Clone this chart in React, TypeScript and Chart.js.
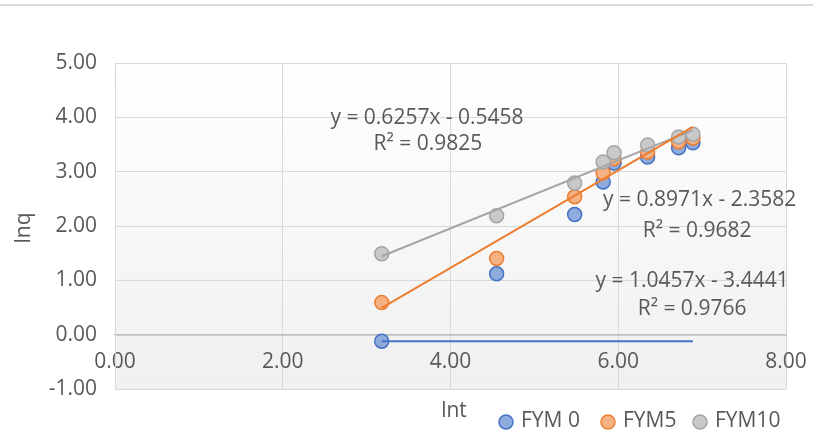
import React, { useEffect, useRef } from 'react';
import { Chart, registerables } from 'chart.js';

Chart.register(...registerables);

// ---- data ----
const lnt = [3.18, 4.55, 5.48, 5.82, 5.95, 6.35, 6.72, 6.89];
const fym0 = [-0.12, 1.12, 2.21, 2.81, 3.16, 3.27, 3.44, 3.53];
const fym5 = [0.59, 1.4, 2.54, 2.98, 3.24, 3.36, 3.55, 3.62];
const fym10 = [1.49, 2.19, 2.79, 3.18, 3.35, 3.49, 3.64, 3.69];
const seriesNames = ['FYM 0', 'FYM5', 'FYM10'];

// trendline coefficients (from the equation labels)
const slopes = [1.0457, 0.8971, 0.6257];
const intercepts = [-3.4441, -2.3582, -0.5458];
const r2 = [0.9766, 0.9682, 0.9825];
// the FYM 0 trendline is drawn flat in the reference
const fym0TrendDrawn = [-0.12, -0.12];

const xTickValues = [0, 2, 4, 6, 8];
const yTickValues = [-1, 0, 1, 2, 3, 4, 5];

const FONT = "'Open Sans', sans-serif";
const TXT = '#595959';
const colors = ['#4472c4', '#ed7d31', '#a5a5a5'];
const fills = ['#8faadc', '#f4b183', '#c9c9c9'];

const fmt = (v: number) => (v < 0 ? '- ' + Math.abs(v).toFixed(4) : '+ ' + v.toFixed(4));
const eqText = (i: number) => `y = ${slopes[i].toFixed(4)}x ${fmt(intercepts[i])}`;
const r2Text = (i: number) => `R² = ${r2[i].toFixed(4)}`;

const pts = (ys: number[]) => lnt.map((x, i) => ({ x, y: ys[i] }));
const xFirst = lnt[0];
const xLast = lnt[lnt.length - 1];
const trendPts = (i: number) => [
  { x: xFirst, y: slopes[i] * xFirst + intercepts[i] },
  { x: xLast, y: slopes[i] * xLast + intercepts[i] },
];

const decorPlugin = {
  id: 'decor',
  beforeDraw(chart: any) {
    const { ctx, chartArea: a } = chart;
    ctx.save();
    ctx.fillStyle = '#d9d9d9';
    ctx.fillRect(0, 4, chart.width, 2);
    const g = ctx.createLinearGradient(0, a.top, 0, a.bottom);
    g.addColorStop(0, '#ffffff');
    g.addColorStop(1, '#f0f0f0');
    ctx.fillStyle = g;
    ctx.fillRect(a.left, a.top, a.right - a.left, a.bottom - a.top);
    ctx.restore();
  },
  afterDraw(chart: any) {
    const { ctx } = chart;
    const xs = chart.scales.x;
    const ys = chart.scales.y;
    const px = (v: number) => xs.getPixelForValue(v);
    const py = (v: number) => ys.getPixelForValue(v);
    ctx.save();
    ctx.fillStyle = TXT;
    ctx.font = `21px ${FONT}`;
    ctx.textBaseline = 'middle';
    ctx.textAlign = 'center';
    // equation labels (anchored in data units)
    const anchors = [
      [6.88, 0.98, 6.88, 0.48],
      [6.97, 2.48, 6.94, 1.9],
      [3.72, 3.99, 3.73, 3.5],
    ];
    anchors.forEach((a, i) => {
      ctx.fillText(eqText(i), px(a[0]), py(a[1]));
      ctx.fillText(r2Text(i), px(a[2]), py(a[3]));
    });
    // axis titles
    ctx.fillText('lnt', 454, 411);
    ctx.save();
    ctx.translate(24, 228);
    ctx.rotate(-Math.PI / 2);
    ctx.fillText('lnq', 0, 0);
    ctx.restore();
    // legend
    const lx = [506, 608, 700];
    ctx.textAlign = 'left';
    seriesNames.forEach((n, i) => {
      ctx.beginPath();
      ctx.arc(lx[i], 422, 7, 0, Math.PI * 2);
      ctx.fillStyle = fills[i];
      ctx.fill();
      ctx.lineWidth = 1.5;
      ctx.strokeStyle = colors[i];
      ctx.stroke();
      ctx.fillStyle = TXT;
      ctx.fillText(n, lx[i] + 15, 421);
    });
    ctx.restore();
  },
};

export default function App() {
  const ref = useRef<HTMLCanvasElement>(null);
  useEffect(() => {
    if (!ref.current) return;
    const pointDs = (i: number, ys: number[], order: number) => ({
      type: 'scatter' as const,
      label: seriesNames[i],
      data: pts(ys),
      backgroundColor: fills[i],
      borderColor: colors[i],
      borderWidth: 1.5,
      pointRadius: 7,
      showLine: false,
      order,
    });
    const lineDs = (i: number, data: { x: number; y: number }[]) => ({
      type: 'line' as const,
      label: seriesNames[i] + ' trend',
      data,
      borderColor: colors[i],
      borderWidth: 2,
      pointRadius: 0,
      fill: false,
      showLine: true,
      order: 0,
    });
    const chart = new Chart(ref.current, {
      type: 'scatter',
      data: {
        datasets: [
          lineDs(0, [
            { x: xFirst, y: fym0TrendDrawn[0] },
            { x: xLast, y: fym0TrendDrawn[1] },
          ]),
          lineDs(1, trendPts(1)),
          lineDs(2, trendPts(2)),
          pointDs(2, fym10, 1),
          pointDs(1, fym5, 2),
          pointDs(0, fym0, 3),
        ] as any,
      },
      options: {
        animation: false,
        responsive: false,
        devicePixelRatio: 1,
        layout: { padding: { left: 0, top: 63, right: 27, bottom: 46 } },
        plugins: { legend: { display: false }, tooltip: { enabled: false } },
        scales: {
          x: {
            type: 'linear',
            position: { y: 0 } as any,
            min: 0,
            max: 8,
            afterBuildTicks: (s: any) => {
              s.ticks = xTickValues.map((v) => ({ value: v }));
            },
            afterFit: (s: any) => {
              s.paddingLeft = 0;
              s.paddingRight = 0;
            },
            ticks: {
              color: TXT,
              font: { family: FONT, size: 21 },
              padding: 15,
              maxRotation: 0,
              autoSkip: false,
              callback: (v: any) => Number(v).toFixed(2),
            },
            grid: { color: '#d9d9d9', drawTicks: false, lineWidth: 1 },
            border: { color: '#bfbfbf', width: 1.5 },
          },
          y: {
            type: 'linear',
            min: -1,
            max: 5,
            afterBuildTicks: (s: any) => {
              s.ticks = yTickValues.map((v) => ({ value: v }));
            },
            afterFit: (s: any) => {
              s.width = 115;
              s.paddingTop = 0;
              s.paddingBottom = 0;
            },
            ticks: {
              color: TXT,
              font: { family: FONT, size: 21 },
              padding: 18,
              autoSkip: false,
              callback: (v: any) => Number(v).toFixed(2),
            },
            grid: {
              color: (c: any) => (c.tick && c.tick.value === 0 ? '#bfbfbf' : '#d9d9d9'),
              lineWidth: (c: any) => (c.tick && c.tick.value === 0 ? 1.5 : 1),
              drawTicks: false,
            },
            border: { color: '#d9d9d9', width: 1 },
          },
        },
      },
      plugins: [decorPlugin],
    });
    return () => chart.destroy();
  }, []);
  return (
    <div style={{ position: 'fixed', left: 0, top: 0, width: 813, height: 435, background: '#fff' }}>
      <canvas ref={ref} width={813} height={435} style={{ width: 813, height: 435, display: 'block' }} />
    </div>
  );
}
